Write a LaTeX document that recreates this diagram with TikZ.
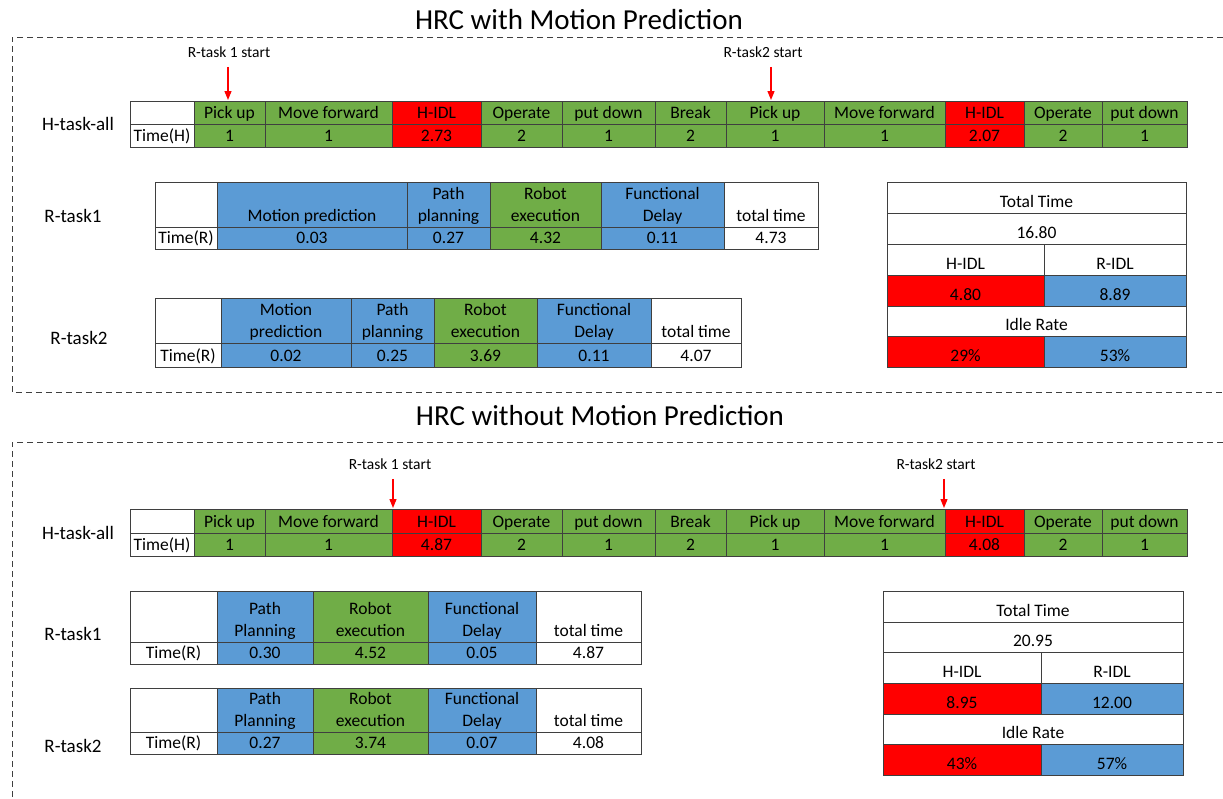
\documentclass[tikz,border=0pt]{standalone}
\usepackage{fontspec}
\setmainfont{Carlito}
\usetikzlibrary{arrows.meta}

\definecolor{tgreen}{HTML}{70AD47}
\definecolor{tblue}{HTML}{5B9BD5}
\definecolor{tred}{HTML}{FF0000}
\definecolor{gridline}{HTML}{3F3F3F}

% two-line header text, last line on the baseline
\newcommand{\two}[2]{\begin{tabular}[b]{@{}c@{}}#1\\#2\end{tabular}}
% one row of cells: name prefix, top, bottom, list xa/xb/fill/text
\newcommand{\cellrow}[4]{%
  \foreach \xa/\xb/\fc/\txt [count=\i] in {#4}{
    \filldraw[gridbox, fill=\fc] (\xa,#2) rectangle (\xb,#3);
    \node[celltext] (#1\i) at ({(\xa+\xb)/2},{#3-6}) {\txt};
  }%
}

\tikzset{
  gridbox/.style={draw=gridline, line width=0.8pt},
  celltext/.style={anchor=base, inner sep=0pt, font=\fontsize{17.5}{21.5}\selectfont},
  sidelabel/.style={font=\fontsize{19}{22}\selectfont},
  headline/.style={font=\fontsize{29}{34}\selectfont},
  startlabel/.style={font=\fontsize{15.5}{18}\selectfont},
  startarrow/.style={draw=red, line width=1.3pt, -{Triangle[length=9pt,width=7pt]}, shorten <=6pt},
  groupframe/.style={draw=gridline, line width=1pt, dash pattern=on 6pt off 4pt},
}

\begin{document}
\begin{tikzpicture}[x=1pt, y=-1pt]

  \useasboundingbox (0,0) rectangle (1223,798);

  % ---------------- with motion prediction ----------------
  \node[headline] (titleA) at (579,20) {HRC with Motion Prediction};
  \draw[groupframe] (1223,37) -- (12,37) -- (12,392) -- (1223,392);

  \node[startlabel] (startA1) at (229,52) {R-task 1 start};
  \node[startlabel] (startA2) at (763,52) {R-task2 start};
  \coordinate (tipA1) at (228,100);
  \coordinate (tipA2) at (771,100);
  \draw[startarrow] (startA1.south -| tipA1) -- (tipA1);
  \draw[startarrow] (startA2.south -| tipA2) -- (tipA2);

  \node[sidelabel] (hlabA) at (78,124) {H-task-all};
  \cellrow{hA}{101}{124}{130/194/white/{}, 194/265/tgreen/Pick up, 265/392/tgreen/Move forward, 392/481/tred/H-IDL, 481/562/tgreen/Operate, 562/655/tgreen/put down, 655/726/tgreen/Break, 726/824/tgreen/Pick up, 824/945/tgreen/Move forward, 945/1024/tred/H-IDL, 1024/1102/tgreen/Operate, 1102/1187/tgreen/put down}
  \cellrow{hAt}{124}{147}{130/194/white/Time(H), 194/265/tgreen/1, 265/392/tgreen/1, 392/481/tred/2.73, 481/562/tgreen/2, 562/655/tgreen/1, 655/726/tgreen/2, 726/824/tgreen/1, 824/945/tgreen/1, 945/1024/tred/2.07, 1024/1102/tgreen/2, 1102/1187/tgreen/1}

  \node[sidelabel] (rlabA1) at (73,216) {R-task1};
  \cellrow{rA}{182}{227}{155/217/white/{}, 217/407/tblue/Motion prediction, 407/490/tblue/{\two{Path}{planning}}, 490/601/tgreen/{\two{Robot}{execution}}, 601/724/tblue/{\two{Functional}{Delay}}, 724/818/white/total time}
  \cellrow{rAt}{227}{249}{155/217/white/Time(R), 217/407/tblue/0.03, 407/490/tblue/0.27, 490/601/tgreen/4.32, 601/724/tblue/0.11, 724/818/white/4.73}

  \node[sidelabel] (rlabA2) at (79,338) {R-task2};
  \cellrow{rB}{298}{343}{155/221/white/{}, 221/351/tblue/{\two{Motion}{prediction}}, 351/434/tblue/{\two{Path}{planning}}, 434/537/tgreen/{\two{Robot}{execution}}, 537/651/tblue/{\two{Functional}{Delay}}, 651/741/white/total time}
  \cellrow{rBt}{343}{367}{155/221/white/Time(R), 221/351/tblue/0.02, 351/434/tblue/0.25, 434/537/tgreen/3.69, 537/651/tblue/0.11, 651/741/white/4.07}

  \cellrow{sA}{182}{213}{887/1186/white/Total Time}
  \cellrow{sAv}{213}{244}{887/1186/white/16.80}
  \cellrow{sAi}{244}{275}{887/1044/white/H-IDL, 1044/1186/white/R-IDL}
  \cellrow{sAn}{275}{306}{887/1044/tred/4.80, 1044/1186/tblue/8.89}
  \cellrow{sAr}{306}{336}{887/1186/white/Idle Rate}
  \cellrow{sAp}{336}{367}{887/1044/tred/29\%, 1044/1186/tblue/53\%}

  % ---------------- without motion prediction ----------------
  \node[headline] (titleB) at (600,416) {HRC without Motion Prediction};
  \draw[groupframe] (1223,442) -- (12,442) -- (12,798);

  \node[startlabel] (startB1) at (390,464) {R-task 1 start};
  \node[startlabel] (startB2) at (936,464) {R-task2 start};
  \coordinate (tipB1) at (393,508);
  \coordinate (tipB2) at (944,508);
  \draw[startarrow] (startB1.south -| tipB1) -- (tipB1);
  \draw[startarrow] (startB2.south -| tipB2) -- (tipB2);

  \node[sidelabel] (hlabB) at (78,533) {H-task-all};
  \cellrow{hB}{509}{533}{130/194/white/{}, 194/265/tgreen/Pick up, 265/392/tgreen/Move forward, 392/481/tred/H-IDL, 481/562/tgreen/Operate, 562/655/tgreen/put down, 655/726/tgreen/Break, 726/824/tgreen/Pick up, 824/945/tgreen/Move forward, 945/1024/tred/H-IDL, 1024/1102/tgreen/Operate, 1102/1187/tgreen/put down}
  \cellrow{hBt}{533}{556}{130/194/white/Time(H), 194/265/tgreen/1, 265/392/tgreen/1, 392/481/tred/4.87, 481/562/tgreen/2, 562/655/tgreen/1, 655/726/tgreen/2, 726/824/tgreen/1, 824/945/tgreen/1, 945/1024/tred/4.08, 1024/1102/tgreen/2, 1102/1187/tgreen/1}

  \node[sidelabel] (rlabB1) at (73,634) {R-task1};
  \cellrow{rC}{591}{642}{130/217/white/{}, 217/313/tblue/{\two{Path}{Planning}}, 313/428/tgreen/{\two{Robot}{execution}}, 428/536/tblue/{\two{Functional}{Delay}}, 536/641/white/total time}
  \cellrow{rCt}{642}{664}{130/217/white/Time(R), 217/313/tblue/0.30, 313/428/tgreen/4.52, 428/536/tblue/0.05, 536/641/white/4.87}

  \node[sidelabel] (rlabB2) at (73,746) {R-task2};
  \cellrow{rD}{688}{732}{130/217/white/{}, 217/313/tblue/{\two{Path}{Planning}}, 313/428/tgreen/{\two{Robot}{execution}}, 428/536/tblue/{\two{Functional}{Delay}}, 536/641/white/total time}
  \cellrow{rDt}{732}{754}{130/217/white/Time(R), 217/313/tblue/0.27, 313/428/tgreen/3.74, 428/536/tblue/0.07, 536/641/white/4.08}

  \cellrow{sB}{591}{622}{883/1183/white/Total Time}
  \cellrow{sBv}{622}{652}{883/1183/white/20.95}
  \cellrow{sBi}{652}{683}{883/1041/white/H-IDL, 1041/1183/white/R-IDL}
  \cellrow{sBn}{683}{714}{883/1041/tred/8.95, 1041/1183/tblue/12.00}
  \cellrow{sBr}{714}{744}{883/1183/white/Idle Rate}
  \cellrow{sBp}{744}{775}{883/1041/tred/43\%, 1041/1183/tblue/57\%}

\end{tikzpicture}
\end{document}
